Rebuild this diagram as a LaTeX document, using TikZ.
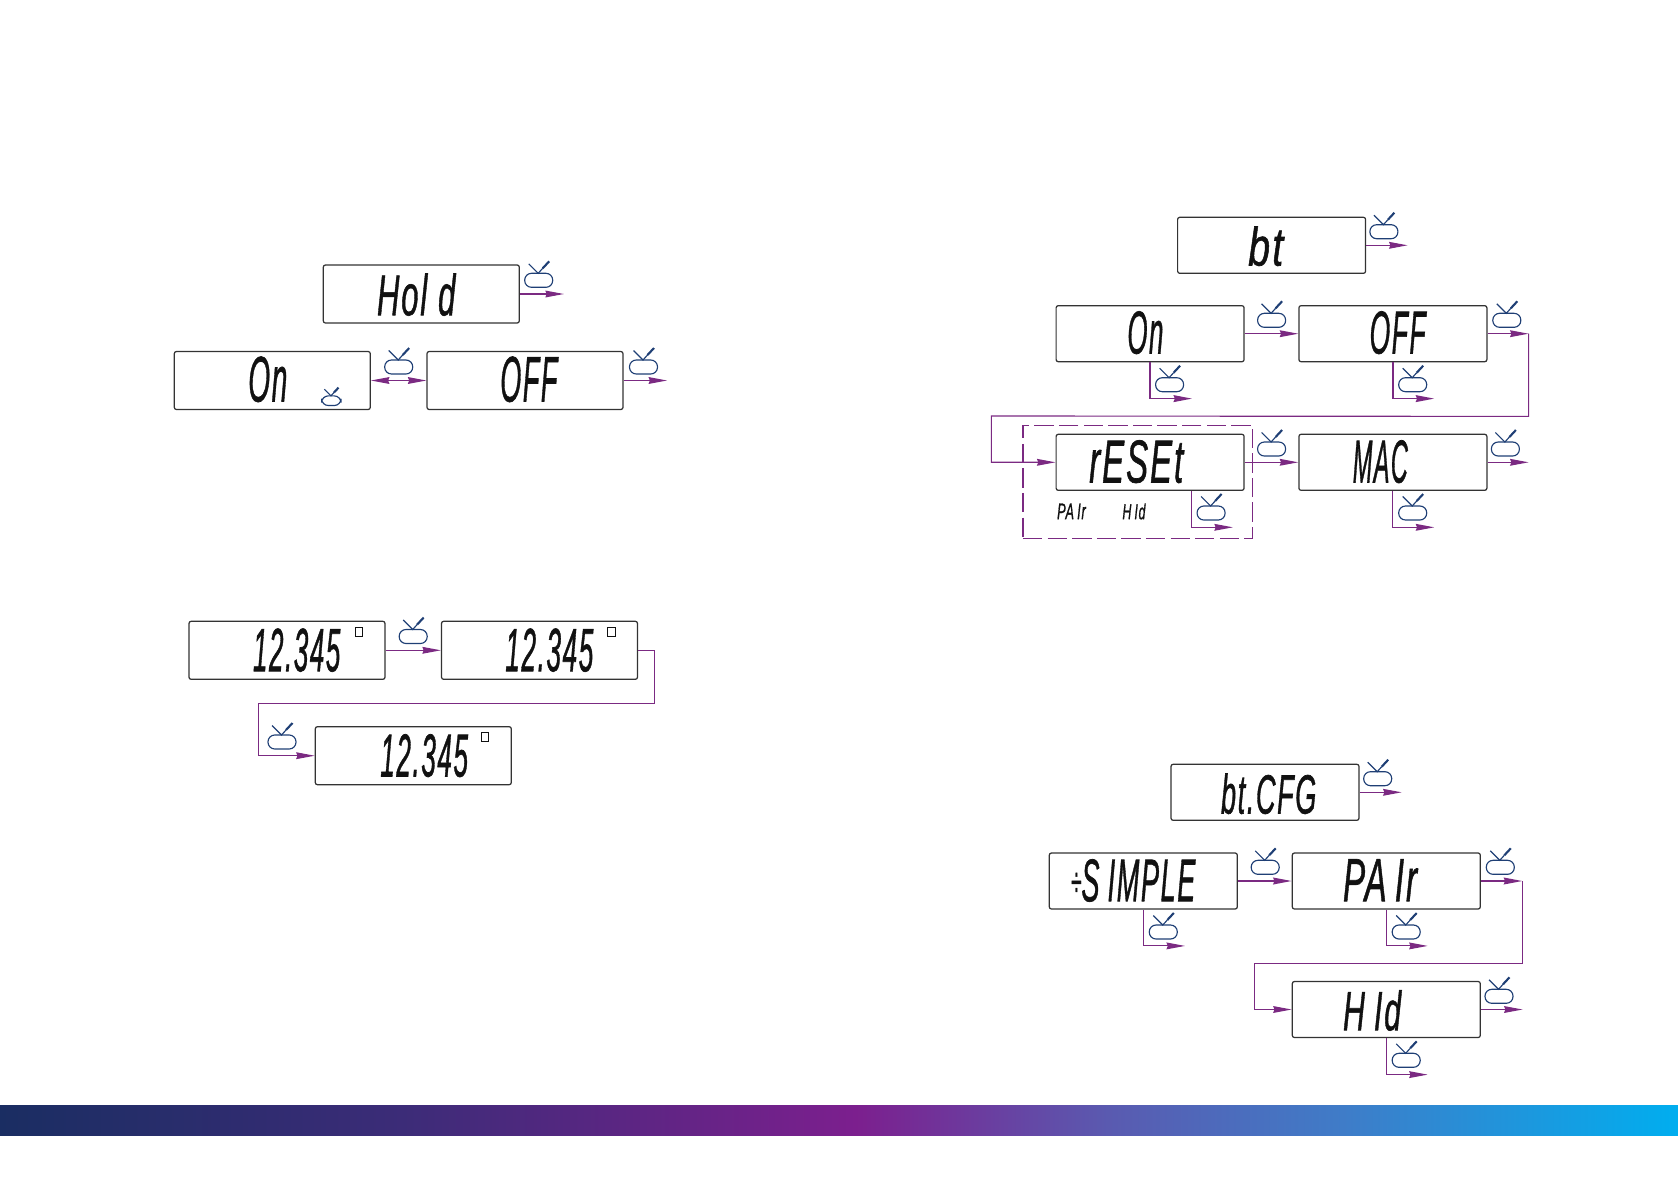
\documentclass[tikz,border=0pt]{standalone}
\usepackage{graphicx}
\usepackage{fontspec}
\setmainfont{Liberation Sans}
\usetikzlibrary{arrows.meta,positioning,calc}
\definecolor{lcdink}{HTML}{111111}
\definecolor{boxline}{HTML}{333333}
\definecolor{flowpurple}{HTML}{7B2A82}
\definecolor{remoteblue}{HTML}{1F3F75}
\definecolor{barnavy}{HTML}{1A2D62}
\definecolor{barviolet}{HTML}{3C2C78}
\definecolor{barpurple}{HTML}{7C1F8E}
\definecolor{barindigo}{HTML}{5A5AB0}
\definecolor{barblue}{HTML}{3F7CC8}
\definecolor{barcyan}{HTML}{00AEEF}
\pgfdeclarehorizontalshading{barshade}{100bp}{color(0bp)=(barnavy); color(25bp)=(barnavy);
    color(37bp)=(barviolet); color(50.5bp)=(barpurple); color(58bp)=(barindigo);
    color(65bp)=(barblue); color(75bp)=(barcyan); color(100bp)=(barcyan)}
\newdimen\lcdpx
\lcdpx=0.02cm
\newcommand{\lcdfit}[3]{\resizebox{#1\lcdpx}{#2\lcdpx}{\itshape\addfontfeature{LetterSpace=6,FakeBold=1.2}#3}}

\begin{document}
\begin{tikzpicture}[
    x=0.02cm, y=-0.02cm,
    >={Stealth[length=3.7mm,width=1.35mm,inset=0.25mm]},
    lcd/.style={draw=boxline, line width=0.7pt, rounded corners=1.2pt, fill=white,
                minimum width=3.92cm, minimum height=1.16cm, inner sep=0pt},
    lcdcfg/.style={lcd, minimum width=3.76cm, minimum height=1.12cm},
    lcdtext/.style={anchor=base west, inner sep=0pt, text=lcdink, yshift=0.03cm},
    unitbox/.style={draw=lcdink, line width=0.5pt, minimum width=0.15cm,
                    minimum height=0.175cm, inner sep=0pt},
    flow/.style={flowpurple, line width=0.65pt},
    heavyflow/.style={flowpurple, line width=0.95pt},
    resetframe/.style={draw=flowpurple, line width=0.65pt, minimum width=4.59cm,
                       minimum height=2.26cm, inner sep=0pt,
                       dash pattern=on 11pt off 3pt},
    remote/.pic={
        \draw[remoteblue, line width=0.65pt, rounded corners=1.35mm] (-14,-7) rectangle (14,7);
        \draw[remoteblue, line width=0.65pt] (-10,-16.5) -- (-0.5,-7) -- (4,-12);
        \draw[remoteblue, line width=1.2pt] (4,-12) -- (10.5,-19);
    },
]

% bar along the foot of the page
\useasboundingbox (0,0) rectangle (1678,1191);
\shade[shading=barshade] (0,1105.5) rectangle (1678,1135.5);

% =====================================================================
% hold
% =====================================================================
\node[lcd] (hold) at (421.3,294) {};
\node[lcd] (holdon) at (272.3,380.5) {};
\node[lcd] (holdoff) at (525,380.5) {};
\node[lcdtext] (holdtxt) at (376.7,316.7) {\lcdfit{78.3}{41.7}{Hol\kern.35em d}};
\node[lcdtext] (holdontxt) at (248,403) {\lcdfit{39}{45}{On}};
\node[lcdtext] (holdofftxt) at (500,403) {\lcdfit{57}{45}{OFF}};

\draw[flow,->] (hold.east) -- ++(44,0);
\draw[flow,<->] (holdon.east) -- (holdoff.west);
\draw[flow,->] (holdoff.east) -- ++(43.5,0);

% =====================================================================
% 12.345 with unit cell
% =====================================================================
\node[lcd] (numa) at (287,650.3) {};
\node[lcd] (numb) at (539.5,650.3) {};
\node[lcd] (numc) at (413.3,755.7) {};
\node[lcdtext] (numatxt) at (252.7,672.7) {\lcdfit{87.3}{42.7}{12.345}};
\node[lcdtext] (numbtxt) at (505,672.7) {\lcdfit{88}{42.7}{12.345}};
\node[lcdtext] (numctxt) at (380,778) {\lcdfit{87.7}{42.3}{12.345}};
\node[unitbox] (unita) at (359,631.7) {};
\node[unitbox] (unitb) at (611.5,631.7) {};
\node[unitbox] (unitc) at (485,737) {};

\draw[flow,->] (numa.east) -- (numb.west);
\draw[flow,->] (numb.east) -- ++(16.4,0) -- ++(0,53.3) -- (258.3,703.6) |- (numc.west);

% =====================================================================
% bt
% =====================================================================
\node[resetframe] (frame) at (1137.7,481.8) {};
\node[lcdcfg] (bt) at (1271.6,245.3) {};
\node[lcdcfg] (bton) at (1150.1,333.7) {};
\node[lcdcfg] (btoff) at (1392.9,333.7) {};
\node[lcdcfg] (btreset) at (1150.1,462.3) {};
\node[lcdcfg] (btmac) at (1392.9,462.3) {};
\node[lcdtext] (bttxt) at (1247.9,267) {\lcdfit{35}{39}{bt}};
\node[lcdtext] (btontxt) at (1127.1,355) {\lcdfit{36}{42.3}{On}};
\node[lcdtext] (btofftxt) at (1369.3,355) {\lcdfit{56}{42.3}{OFF}};
\node[lcdtext] (btresettxt) at (1088.9,484) {\lcdfit{94}{42.3}{rESEt}};
\node[lcdtext] (btmactxt) at (1352.5,484) {\lcdfit{55}{42.3}{MAC}};
\node[lcdtext] (btpairtxt) at (1056.8,520.7) {\lcdfit{28.6}{15.7}{PA\kern.25em Ir}};
\node[lcdtext] (bthidtxt) at (1122.1,520.7) {\lcdfit{23}{15.7}{H\kern.25em Id}};

\draw[flow,->] (bt.east) -- ++(41.4,0);
\draw[flow,->] (bton.east) -- (btoff.west);
\draw[heavyflow,->] (bton.south) |- ++(42,36.3);
\draw[heavyflow,->] (btoff.south) |- ++(41.4,36.3);
\coordinate (btturn) at ($(btoff.east)+(41.1,0)$);
\draw[flow,->] (btoff.east) -- (btturn);
\draw[flow,->] (btturn) -- ++(0,82.7) -- (991.4,416) |- (btreset.west);
\draw[flow,->] (btreset.east) -- (btmac.west);
\draw[flow,->] ($(btreset.south)+(41.3,0)$) |- ++(41.5,36.4);
\draw[flow,->] (btmac.south) |- ++(41.4,36.4);
\draw[flow,->] (btmac.east) -- ++(41.1,0);

% =====================================================================
% bt.CFG
% =====================================================================
\node[lcdcfg] (cfg) at (1265,792.3) {};
\node[lcdcfg] (cfgsimple) at (1143.3,881) {};
\node[lcdcfg] (cfgpair) at (1386.3,881) {};
\node[lcdcfg] (cfghid) at (1386.3,1009.5) {};
\node[lcdtext] (cfgtxt) at (1220.7,815) {\lcdfit{95.3}{40}{bt.CFG}};
\node[lcdtext] (cfgsimpletxt) at (1070.7,902.7) {\lcdfit{124.3}{42}{\raisebox{.08em}{\scriptsize ÷}S\kern.3em IMPLE}};
\node[lcdtext] (cfgpairtxt) at (1342.7,902.7) {\lcdfit{74}{42}{PA\kern.25em Ir}};
\node[lcdtext] (cfghidtxt) at (1342.7,1031.7) {\lcdfit{58}{40}{H\kern.3em Id}};

\draw[flow,->] (cfg.east) -- ++(42,0);
\draw[heavyflow,->] (cfgsimple.east) -- (cfgpair.west);
\draw[flow,->] (cfgsimple.south) |- ++(41.7,36.3);
\coordinate (cfgturn) at ($(cfgpair.east)+(41.4,0)$);
\draw[heavyflow,->] (cfgpair.east) -- (cfgturn);
\draw[flow,->] (cfgturn) -- ++(0,82.3) -- (1254.3,963.3) |- (cfghid.west);
\draw[flow,->] (cfgpair.south) |- ++(41.4,36.3);
\draw[flow,->] (cfghid.east) -- ++(41.7,0);
\draw[flow,->] (cfghid.south) |- ++(41.4,36.5);

% remote keys
\foreach \ix/\iy in {538.7/280.3,398.7/367,643.5/367,413.2/636.5,282/742,
                     1383.9/231.7,1271.6/320.3,1506.8/320.3,1169.6/384.7,1412.7/384.7,
                     1271.6/449,1505.4/449,1211.1/513,1412.7/513,
                     1377.7/778.7,1265.2/867.3,1500.3/867.3,1163.3/932,1406.2/932,
                     1499/996.3,1406.2/1060.3} {
    \pic at (\ix,\iy) {remote};
}
\pic[scale=0.69] at (331.3,400.7) {remote};

\end{tikzpicture}
\end{document}
